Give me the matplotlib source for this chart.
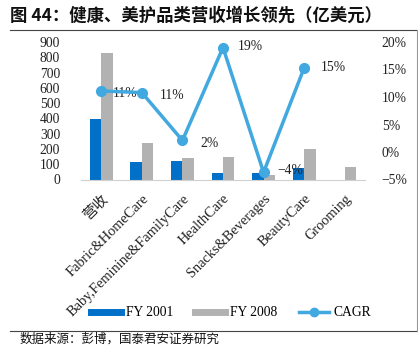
import matplotlib
matplotlib.use("Agg")
import matplotlib.pyplot as plt
import numpy as np
from matplotlib.lines import Line2D

categories = ["营收", "Fabric&HomeCare", "Baby,Feminine&FamilyCare", "HealthCare",
              "Snacks&Beverages", "BeautyCare", "Grooming"]
fy2001 = [398, 116, 120, 44, 41, 74, 0]
fy2008 = [825, 239, 138, 145, 31, 197, 81]
cagr = [11.1, 10.8, 2.1, 19.0, -3.7, 15.3]
cagr_labels = ["11%", "11%", "2%", "19%", "-4%", "15%"]
left_ticks = [0, 100, 200, 300, 400, 500, 600, 700, 800, 900]
right_ticks = [-5, 0, 5, 10, 15, 20]

serif = ["Liberation Serif", "DejaVu Serif"]
cjk = ["Noto Sans CJK SC", "DejaVu Sans"]

c_blue = "#0070C8"
c_gray = "#B2B2B2"
c_line = "#41A8E0"
fs = 9.8

fig = plt.figure(figsize=(4.18, 3.46), dpi=100)
ax = fig.add_axes([81/418, 1-179.5/346, (365-81)/418, (179.5-42)/346])
ax2 = ax.twinx()

x = np.arange(len(categories))
w = 0.28
ax.bar(x - w/2, fy2001, w, color=c_blue, zorder=2)
ax.bar(x + w/2, fy2008, w, color=c_gray, zorder=2)
ax.set_xlim(-0.5, len(categories) - 0.5)
ax.set_ylim(0, 900)
ax.set_yticks(left_ticks)
ax.set_yticklabels([str(t) for t in left_ticks], fontfamily=serif, fontsize=fs, color="#222222")
ax.tick_params(axis="y", length=0, pad=15)
ax.set_xticks(x)
ax.set_xticklabels(categories, rotation=45, ha="right", rotation_mode="anchor",
                   fontsize=fs + 0.6, color="#222222")
for lab in ax.get_xticklabels():
    lab.set_fontfamily(serif if lab.get_text() != "营收" else cjk)
ax.tick_params(axis="x", length=0, pad=9)
for s in ["top", "left", "right"]:
    ax.spines[s].set_visible(False)
ax.spines["bottom"].set_color("#D0D0D0")
for s in ["top", "left", "right", "bottom"]:
    ax2.spines[s].set_visible(False)

xc = x[:len(cagr)]
ax2.plot(xc, cagr, color=c_line, lw=2.5, marker="o", ms=7, zorder=5)
ax2.set_ylim(-5, 20)
ax2.set_yticks(right_ticks)
ax2.set_yticklabels([f"{t}%" if t >= 0 else f"\u2212{-t}%" for t in right_ticks],
                    fontfamily=serif, fontsize=fs, color="#222222")
ax2.tick_params(axis="y", length=0, pad=12)
ax.set_zorder(1)
ax2.set_zorder(2)
ax.patch.set_visible(False)

offsets = [(8, -2), (13, -2), (13, -2), (11, 1), (10, 1), (12, 0)]
for xi, yi, lab, (dx, dy) in zip(xc, cagr, cagr_labels, offsets):
    ax2.annotate(lab.replace("-", "\u2212"), (xi, yi), xytext=(dx, dy), textcoords="offset points",
                 ha="left", va="center", fontfamily=serif, fontsize=fs, color="#222222")

handles = [Line2D([0], [0], color=c_blue, lw=5),
           Line2D([0], [0], color=c_gray, lw=5),
           Line2D([0], [0], color=c_line, lw=2.5, marker="o", ms=6)]
fig.legend(handles, ["FY 2001", "FY 2008", "CAGR"], loc="center", bbox_to_anchor=(231/418, 1-313/346),
           ncol=3, frameon=False, prop={"family": serif, "size": fs}, handlelength=2.2,
           columnspacing=1.6, handletextpad=0.35)

fig.text(10/418, 1-16/346, "图 44：健康、美护品类营收增长领先（亿美元）", fontfamily=cjk,
         fontsize=12.5, fontweight="bold", va="center", ha="left", color="#111111")
fig.add_artist(Line2D([10/418, 1], [1-29.5/346, 1-29.5/346], color="#444444", lw=0.8))
fig.add_artist(Line2D([10/418, 1], [1-331/346, 1-331/346], color="#444444", lw=0.8))
fig.add_artist(Line2D([417/418, 417/418], [1-29.5/346, 1-331/346], color="#999999", lw=0.8))
fig.text(20/418, 1-339.5/346, "数据来源：彭博，国泰君安证券研究", fontfamily=cjk, fontsize=9,
         va="center", ha="left", color="#111111")

fig.savefig("out.png", dpi=100)
